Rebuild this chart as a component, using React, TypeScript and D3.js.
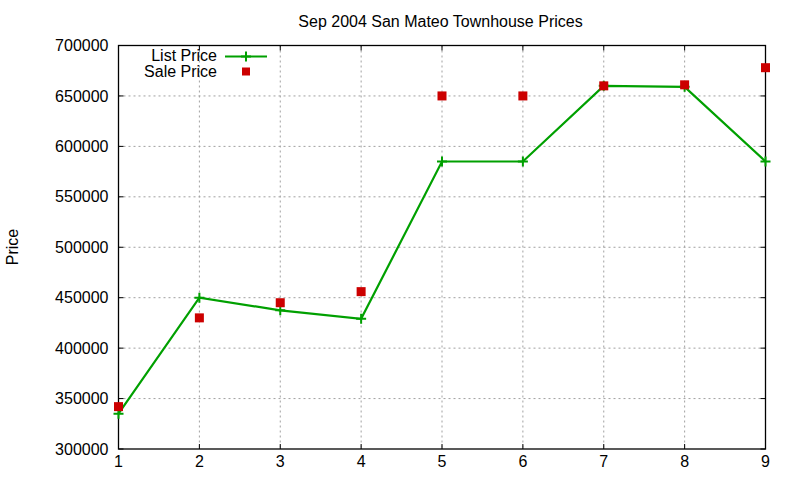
import React, { useEffect, useRef } from "react";
import * as d3 from "d3";

const xValues = [1, 2, 3, 4, 5, 6, 7, 8, 9];
const listPrice = [335000, 450000, 437500, 429000, 585000, 585000, 660000, 659000, 585000];
const salePrice = [342000, 430000, 445000, 456000, 650000, 650000, 660000, 661000, 678000];
const yTicks = [300000, 350000, 400000, 450000, 500000, 550000, 600000, 650000, 700000];
const xTicks = [1, 2, 3, 4, 5, 6, 7, 8, 9];
const title = "Sep 2004 San Mateo Townhouse Prices";
const yLabel = "Price";
const seriesNames = ["List Price", "Sale Price"];

export default function App() {
  const ref = useRef<SVGSVGElement>(null);
  useEffect(() => {
    document.body.style.margin = "0";
    const svg = d3.select(ref.current);
    svg.selectAll("*").remove();
    const W = 800, H = 480;
    const m = { left: 118.5, right: 765.5, top: 45.5, bottom: 449 };
    const font = "Liberation Sans, Arial, sans-serif";
    const x = d3.scaleLinear().domain([1, 9]).range([m.left, m.right]);
    const y = d3.scaleLinear().domain([300000, 700000]).range([m.bottom, m.top]);

    svg.append("rect").attr("width", W).attr("height", H).attr("fill", "white");

    // grid
    const g = svg.append("g");
    xTicks.forEach((t) => {
      if (t === 1 || t === 9) return;
      g.append("line").attr("x1", x(t)).attr("x2", x(t)).attr("y1", m.top).attr("y2", m.bottom)
        .attr("stroke", "#a0a0a0").attr("stroke-width", 1).attr("stroke-dasharray", "2,3");
    });
    yTicks.forEach((t) => {
      if (t === 300000 || t === 700000) return;
      g.append("line").attr("x1", m.left).attr("x2", m.right).attr("y1", y(t)).attr("y2", y(t))
        .attr("stroke", "#a0a0a0").attr("stroke-width", 1).attr("stroke-dasharray", "2,3");
    });

    // ticks (inward, mirrored)
    const tl = 5;
    yTicks.forEach((t) => {
      g.append("line").attr("x1", m.left).attr("x2", m.left + tl).attr("y1", y(t)).attr("y2", y(t)).attr("stroke", "black");
      g.append("line").attr("x1", m.right).attr("x2", m.right - tl).attr("y1", y(t)).attr("y2", y(t)).attr("stroke", "black");
      g.append("text").attr("x", m.left - 10).attr("y", y(t)).attr("dy", "0.35em").attr("text-anchor", "end")
        .attr("font-family", font).attr("font-size", 16).text(String(t));
    });
    xTicks.forEach((t) => {
      g.append("line").attr("x1", x(t)).attr("x2", x(t)).attr("y1", m.bottom).attr("y2", m.bottom - tl).attr("stroke", "black");
      g.append("line").attr("x1", x(t)).attr("x2", x(t)).attr("y1", m.top).attr("y2", m.top + tl).attr("stroke", "black");
      g.append("text").attr("x", x(t)).attr("y", m.bottom + 18).attr("text-anchor", "middle")
        .attr("font-family", font).attr("font-size", 16).text(String(t));
    });

    // frame
    g.append("rect").attr("x", m.left).attr("y", m.top).attr("width", m.right - m.left).attr("height", m.bottom - m.top)
      .attr("fill", "none").attr("stroke", "black").attr("stroke-width", 1.3);

    // title & ylabel
    svg.append("text").attr("x", 440.5).attr("y", 26.5).attr("text-anchor", "middle").attr("font-family", font)
      .attr("font-size", 16).text(title);
    svg.append("text").attr("transform", `translate(18,247) rotate(-90)`).attr("text-anchor", "middle")
      .attr("font-family", font).attr("font-size", 16).text(yLabel);

    const green = "#00a000", red = "#cc0000";
    const line = d3.line<number>().x((_, i) => x(xValues[i])).y((d) => y(d));
    svg.append("path").attr("d", line(listPrice) as string).attr("fill", "none").attr("stroke", green).attr("stroke-width", 2.2);
    const plus = (px: number, py: number) => {
      svg.append("path").attr("d", `M${px - 5},${py}H${px + 5}M${px},${py - 5}V${py + 5}`)
        .attr("stroke", green).attr("stroke-width", 2);
    };
    listPrice.forEach((v, i) => plus(x(xValues[i]), y(v)));
    salePrice.forEach((v, i) => {
      svg.append("rect").attr("x", x(xValues[i]) - 4.5).attr("y", y(v) - 4.5).attr("width", 9).attr("height", 9).attr("fill", red);
    });

    // legend
    svg.append("text").attr("x", 217).attr("y", 55).attr("dy", "0.35em").attr("text-anchor", "end")
      .attr("font-family", font).attr("font-size", 16).text(seriesNames[0]);
    svg.append("text").attr("x", 217).attr("y", 71).attr("dy", "0.35em").attr("text-anchor", "end")
      .attr("font-family", font).attr("font-size", 16).text(seriesNames[1]);
    svg.append("line").attr("x1", 225).attr("x2", 267).attr("y1", 56.5).attr("y2", 56.5).attr("stroke", green).attr("stroke-width", 2.2);
    plus(246, 56.5);
    svg.append("rect").attr("x", 242).attr("y", 67.5).attr("width", 8).attr("height", 8).attr("fill", red);
  }, []);
  return <svg ref={ref} width={800} height={480} style={{ display: "block" }} />;
}
